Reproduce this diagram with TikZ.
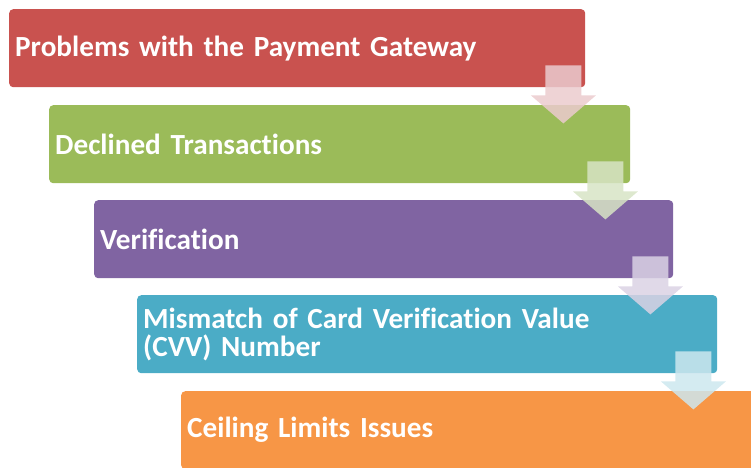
\documentclass[tikz,border=0pt]{standalone}
\usepackage{fontspec}
\setmainfont{Carlito}[Ligatures=NoCommon]
\usetikzlibrary{calc}
\definecolor{cRed}{HTML}{C9524F}
\definecolor{cGreen}{HTML}{9BBB59}
\definecolor{cPurple}{HTML}{8064A2}
\definecolor{cTeal}{HTML}{4BACC6}
\definecolor{cOrange}{HTML}{F79646}
\definecolor{aRed}{HTML}{EBCBCE}
\definecolor{aGreen}{HTML}{D7E4C5}
\definecolor{aPurple}{HTML}{DAD2E4}
\definecolor{aTeal}{HTML}{CDE7EF}
\newcommand\myboxfont{\fontsize{29.2}{28}\selectfont\bfseries\fontdimen2\font=4.5pt\fontdimen3\font=0pt\fontdimen4\font=0pt}
\tikzset{
  box/.style={rectangle, rounded corners=4pt, anchor=north west,
    minimum height=78pt, inner xsep=6pt, inner ysep=0pt,
    text=white, align=left, font=\myboxfont},
  blockarrow/.pic={\fill[pic actions] (-18,0) -- (18,0) -- (18,30) -- (32.5,30)
     -- (0,58) -- (-32.5,30) -- (-18,30) -- cycle;},
  arrowfill/.style={fill opacity=0.85}
}
\begin{document}
\begin{tikzpicture}[x=1pt,y=-1pt]
\useasboundingbox (0,0) rectangle (751,467);
\node[box, fill=cRed, minimum width=576pt, text width=564pt] (b1) at (9,9) {Problems with the Payment Gateway};
\node[box, fill=cGreen, minimum width=581pt, text width=569pt] (b2) at (49,105) {Declined Transactions};
\node[box, fill=cPurple, minimum width=579pt, text width=567pt] (b3) at (94,200) {Verification};
\node[box, fill=cTeal, minimum width=580pt, text width=568pt] (b4) at (137,295) {Mismatch of Card Verification Value\\(CVV) Number};
\node[box, fill=cOrange, minimum width=600pt, text width=588pt] (b5) at (181,391) {Ceiling Limits Issues};
\pic[fill=aRed, arrowfill] at ($(b1.south east)+(-22,-22)$) {blockarrow};
\pic[fill=aGreen, arrowfill] at ($(b2.south east)+(-25,-22)$) {blockarrow};
\pic[fill=aPurple, arrowfill] at ($(b3.south east)+(-23,-22)$) {blockarrow};
\pic[fill=aTeal, arrowfill] at ($(b4.south east)+(-24,-22)$) {blockarrow};
\end{tikzpicture}
\end{document}
